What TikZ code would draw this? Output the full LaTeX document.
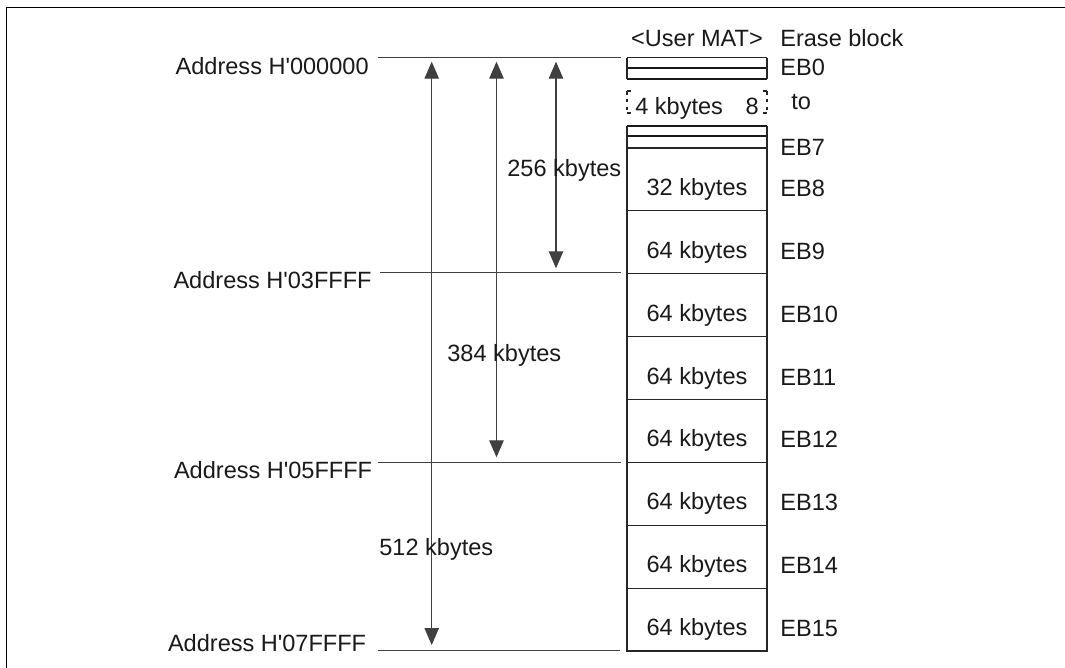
\documentclass[tikz,border=0pt]{standalone}
\usepackage{fontspec}
\setmainfont{Liberation Sans}
\usetikzlibrary{arrows.meta}

\tikzset{
    txt/.style={inner sep=0pt, font=\fontsize{13.4}{16}\selectfont, text=black!90},
    addrline/.style={draw=black!75, line width=0.6pt},
    sizearrow/.style={draw=black!75, line width=0.6pt, {Triangle[length=3.4mm, width=2.9mm]}-{Triangle[length=3.4mm, width=2.9mm]}},
    blockline/.style={draw=black!85, line width=0.6pt},
    sepline/.style={draw=black!90, line width=1pt}
}

\begin{document}
\begin{tikzpicture}[x=0.02cm, y=-0.02cm]
    \def\matleft{627}
    \def\matright{767}
    \def\matmid{697}
    \def\rowh{62.875}

    \useasboundingbox (0,0) rectangle (1065,668);

    % Frame
    \draw[line width=1pt] (6.5,668) -- (6.5,7.5) -- (1065,7.5);

    % Address lines
    \coordinate (Addr0W) at (378,57.5);
    \coordinate (Addr0E) at (621,57.5);
    \coordinate (Addr1W) at (380,272.7);
    \coordinate (Addr1E) at (621,272.7);
    \coordinate (Addr2W) at (378,462.7);
    \coordinate (Addr2E) at (621,462.7);
    \coordinate (Addr3W) at (378,650.7);
    \coordinate (Addr3E) at (620,650.7);
    \foreach \a in {0,...,3}
        \draw[addrline] (Addr\a W) -- (Addr\a E);

    \node[txt, anchor=base east] (Addr0) at (369,75) {Address H\textquotesingle000000};
    \node[txt, anchor=base east] (Addr1) at (372,289) {Address H\textquotesingle03FFFF};
    \node[txt, anchor=base east] (Addr2) at (372.5,479) {Address H\textquotesingle05FFFF};
    \node[txt, anchor=base east] (Addr3) at (366.5,651) {Address H\textquotesingle07FFFF};

    % Size arrows
    \coordinate (Arr512Top) at (431.7,61.7);
    \coordinate (Arr512Bot) at (431.7,645);
    \coordinate (Arr384Top) at (496.5,61.7);
    \coordinate (Arr384Bot) at (496.5,457.3);
    \coordinate (Arr256Top) at (556,61.7);
    \coordinate (Arr256Bot) at (556,268.3);
    \draw[sizearrow] (Arr512Top) -- (Arr512Bot);
    \draw[sizearrow] (Arr384Top) -- (Arr384Bot);
    \draw[sizearrow] (Arr256Top) -- (Arr256Bot);

    \node[txt, anchor=base west] (Size256) at (507,176.5) {256 kbytes};
    \node[txt, anchor=base west] (Size384) at (447,362) {384 kbytes};
    \node[txt, anchor=base west] (Size512) at (379,556) {512 kbytes};

    % User MAT, small blocks
    \node[txt, anchor=base] (MatTitle) at (\matmid,47) {\textless User MAT\textgreater};
    \node[txt, anchor=base west] (EraseTitle) at (780,47) {Erase block};

    \draw[blockline] (\matleft,57.7) -- (\matright,57.7);
    \foreach \y in {67.7,79.3,125.7,135.7}
        \draw[sepline] (\matleft,\y) -- (\matright,\y);
    \draw[blockline] (\matleft,57.7) -- (\matleft,79.3) (\matleft,125.7) -- (\matleft,148);
    \draw[blockline] (\matright,57.7) -- (\matright,79.3) (\matright,125.7) -- (\matright,148);
    \draw[blockline] (\matleft+4,91) -- (\matleft,91) (\matleft,113) -- (\matleft+4,113);
    \draw[blockline] (\matright-4,91) -- (\matright,91) (\matright,113) -- (\matright-4,113);
    \draw[blockline, dash pattern=on 2pt off 2.5pt] (\matleft,91) -- (\matleft,113);
    \draw[blockline, dash pattern=on 2pt off 2.5pt] (\matright,91) -- (\matright,113);

    \node[txt, anchor=base west] (Small4k) at (635,115) {4 kbytes};
    \node[txt, anchor=base east] (SmallCount) at (759,115) {8};
    \node[txt, anchor=base west] (Label0) at (780,76) {EB0};
    \node[txt, anchor=base west] (LabelTo) at (791,110) {to};
    \node[txt, anchor=base west] (Label7) at (780,156) {EB7};

    % User MAT, large blocks
    \foreach \eb/\size [count=\i from 0] in {8/32,9/64,10/64,11/64,12/64,13/64,14/64,15/64} {
        \pgfmathsetmacro\rowtop{148+\rowh*\i}
        \draw[blockline] (\matleft,\rowtop) rectangle (\matright,\rowtop+\rowh);
        \node[txt, anchor=base] (Size\eb) at (\matmid,\rowtop+47.5) {\size\ kbytes};
        \node[txt, anchor=base west] (Label\eb) at (780,\rowtop+48.5) {EB\eb};
    }

\end{tikzpicture}
\end{document}
